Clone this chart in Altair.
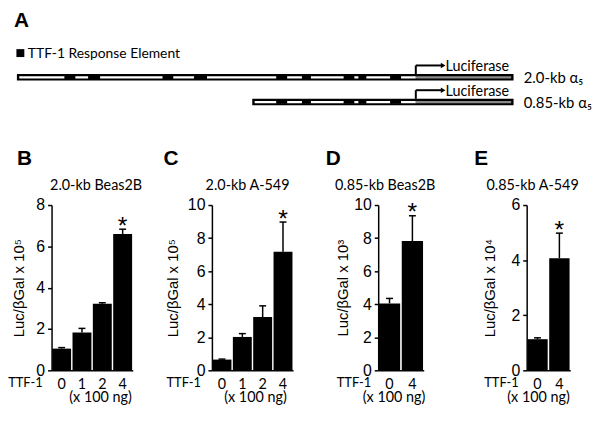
import altair as alt
import pandas as pd

# ---------------- Panel A: promoter constructs (positions in kb, 0 = start site) ----------------
construct_labels = ["2.0-kb α₅", "0.85-kb α₅"]
construct_starts = [-2.0, -0.82]
construct_rows = [0, 1]
luciferase_end = 0.49
tre_starts = [-1.762, -1.643, -1.270, -1.112, -0.700, -0.571, -0.362, -0.288, -0.129]
tre_ends = [-1.707, -1.583, -1.216, -1.047, -0.645, -0.526, -0.308, -0.248, -0.074]

# ---------------- Panels B–E ----------------
panel_letters = ["B", "C", "D", "E"]
panel_titles = ["2.0-kb Beas2B", "2.0-kb A-549", "0.85-kb Beas2B", "0.85-kb A-549"]
panel_ytitles = ["Luc/βGal x 10⁵", "Luc/βGal x 10⁵", "Luc/βGal x 10³", "Luc/βGal x 10⁴"]
panel_ymax = [8, 10, 10, 6]

doses_b = ["0", "1", "2", "4"]
means_b = [1.05, 1.83, 3.22, 6.6]
errs_b = [0.05, 0.2, 0.05, 0.23]
sig_b = [False, False, False, True]

doses_c = ["0", "1", "2", "4"]
means_c = [0.65, 2.02, 3.22, 7.18]
errs_c = [0.03, 0.2, 0.68, 1.79]
sig_c = [False, False, False, True]

doses_d = ["0", "4"]
means_d = [4.05, 7.82]
errs_d = [0.3, 1.53]
sig_d = [False, True]

doses_e = ["0", "4"]
means_e = [1.13, 4.07]
errs_e = [0.05, 0.91]
sig_e = [False, True]

SANS = "Liberation Sans"
HUM = "Lato"

# ---------------- schematic ----------------
xs = alt.Scale(domain=[-1.8263, 0.7742], nice=False, zero=False)
ys = alt.Scale(domain=[-2.72, 1.44], nice=False, zero=False, reverse=True)

cons = pd.DataFrame({"label": construct_labels, "start": construct_starts, "row": construct_rows})
cons["end"] = luciferase_end
cons["y1"] = cons["row"] - 0.13
cons["y2"] = cons["row"] + 0.13
cons["w1"] = cons["row"] - 0.045
cons["w2"] = cons["row"] + 0.045
cons["in_start"] = cons["start"] + 0.012
cons["zero"] = 0.0
cons["luc_in_end"] = luciferase_end - 0.012
cons["arrow_y"] = cons["row"] - 0.48
cons["arrow_end"] = 0.13
cons["head_x"] = 0.137
cons["luc_x"] = 0.149
cons["luc_y"] = cons["row"] - 0.24
cons["lab_x"] = 0.541
cons["lab_y"] = cons["row"] + 0.22
cons["luc_text"] = "Luciferase"

tre_rows = []
for r, s in zip(construct_rows, construct_starts):
    for a, b in zip(tre_starts, tre_ends):
        if a >= s:
            tre_rows.append({"row": r, "a": a, "b": b, "y1": r - 0.07, "y2": r + 0.07})
tre = pd.DataFrame(tre_rows)

bc = alt.Chart(cons)
outer = bc.mark_rect(color="black").encode(
    x=alt.X("start:Q", scale=xs, axis=None), x2="end:Q",
    y=alt.Y("y1:Q", scale=ys, axis=None), y2="y2:Q")
inner_white = bc.mark_rect(color="white").encode(
    x="in_start:Q", x2="zero:Q", y="w1:Q", y2="w2:Q")
inner_gray = bc.mark_rect(color="#8a8a8a").encode(
    x="zero:Q", x2="luc_in_end:Q", y="w1:Q", y2="w2:Q")
elements = alt.Chart(tre).mark_rect(color="black").encode(
    x="a:Q", x2="b:Q", y="y1:Q", y2="y2:Q")
arrow_v = bc.mark_rule(color="black", strokeWidth=2).encode(
    x="zero:Q", y="y1:Q", y2="arrow_y:Q")
arrow_h = bc.mark_rule(color="black", strokeWidth=2).encode(
    x="zero:Q", x2="arrow_end:Q", y="arrow_y:Q")
arrow_head = bc.mark_point(shape="triangle-right", filled=True, color="black", size=30, opacity=1).encode(
    x="head_x:Q", y="arrow_y:Q")
luc_text = bc.mark_text(align="left", baseline="alphabetic", font=HUM, fontSize=14.5, color="black").encode(
    x="luc_x:Q", y="luc_y:Q", text="luc_text:N")
con_text = bc.mark_text(align="left", baseline="alphabetic", font=HUM, fontSize=15, color="black").encode(
    x="lab_x:Q", y="lab_y:Q", text="label:N")

one = pd.DataFrame({"t": ["A"], "leg": ["TTF-1 Response Element"]})
letter_a = alt.Chart(one).mark_text(align="left", baseline="alphabetic", font=SANS, fontSize=21,
                                    fontWeight="bold", color="black").encode(
    text="t:N", x=alt.value(-38), y=alt.value(17))
leg_sq = alt.Chart(one).mark_square(color="black", size=64, opacity=1).encode(
    x=alt.value(-31.5), y=alt.value(43.5))
leg_text = alt.Chart(one).mark_text(align="left", baseline="alphabetic", font=HUM, fontSize=14,
                                    color="black").encode(
    text="leg:N", x=alt.value(-24), y=alt.value(48))

schematic = alt.layer(outer, inner_white, inner_gray, elements, arrow_v, arrow_h, arrow_head,
                      luc_text, con_text, letter_a, leg_sq, leg_text).properties(width=524, height=104)

# ---------------- bar panels ----------------
H = 167


def panel(letter, title, ytitle, ymax, doses, means, errs, sig, w, title_dx, letter_x,
          ttf_x, ng_dx, ytitle_x):
    df = pd.DataFrame({"dose": doses, "mean": means, "err": errs, "sig": sig})
    df["top"] = df["mean"] + df["err"]
    df["star"] = ["*" if s else "" for s in sig]
    base = alt.Chart(df)
    xscale = alt.Scale(paddingInner=0.07, paddingOuter=0.03)
    xaxis = alt.Axis(title=None, labelAngle=0, ticks=False, domainColor="black",
                     domainWidth=1.5, labelFont=HUM, labelFontSize=14.5,
                     labelColor="black", labelPadding=7, grid=False)
    yscale = alt.Scale(domain=[0, ymax], nice=False, zero=True)
    yaxis = alt.Axis(values=list(range(0, ymax + 1, 2)), grid=False,
                     labelOverlap=False, labelFlush=False,
                     domainColor="black", domainWidth=1.5,
                     tickColor="black", tickWidth=1.5, tickSize=4,
                     labelFont=SANS, labelFontSize=16, labelColor="black",
                     labelPadding=3,
                     title=ytitle, titleFont=SANS, titleFontSize=15,
                     titleFontWeight="normal", titleColor="black",
                     titleAngle=-90, titleX=ytitle_x, titleY=H / 2,
                     titleAlign="center", titleBaseline="middle")

    def X():
        return alt.X("dose:N", sort=doses, scale=xscale, axis=xaxis)

    def Y(f):
        return alt.Y(f + ":Q", scale=yscale, axis=yaxis)

    bars = base.mark_bar(color="black").encode(x=X(), y=Y("mean"))
    err = base.mark_rule(color="black", strokeWidth=1.5).encode(
        x=X(), y=Y("mean"), y2="top:Q")
    cap = base.mark_tick(color="black", thickness=1.5, size=7, opacity=1).encode(
        x=X(), y=Y("top"))
    star = base.mark_text(font=SANS, fontSize=25, baseline="alphabetic", dy=4.5,
                          color="black").encode(
        x=X(), y=Y("top"), text="star:N")
    ann = pd.DataFrame({"letter": [letter], "title": [title], "ttf": ["TTF-1"],
                        "ng": ["(x 100 ng)"]})
    ac = alt.Chart(ann)
    let = ac.mark_text(font=SANS, fontSize=21, fontWeight="bold", align="left",
                       baseline="alphabetic", color="black").encode(
        text="letter:N", x=alt.value(letter_x), y=alt.value(-40))
    tit = ac.mark_text(font=HUM, fontSize=14.5, align="center", baseline="alphabetic",
                       color="black").encode(
        text="title:N", x=alt.value(w / 2 + title_dx), y=alt.value(-15))
    ttf = ac.mark_text(font=HUM, fontSize=13, align="right", baseline="alphabetic",
                       color="black").encode(
        text="ttf:N", x=alt.value(ttf_x), y=alt.value(H + 17))
    ng = ac.mark_text(font=HUM, fontSize=14.5, align="center", baseline="alphabetic",
                      color="black").encode(
        text="ng:N", x=alt.value(w / 2 + ng_dx), y=alt.value(H + 32))
    return alt.layer(bars, err, cap, star, let, tit, ttf, ng).properties(width=w, height=H)


def spacer(w):
    return alt.Chart(pd.DataFrame({"a": [0]})).mark_point(opacity=0).encode(
        x=alt.value(0), y=alt.value(0)).properties(width=w, height=H)


pB = panel(panel_letters[0], panel_titles[0], panel_ytitles[0], panel_ymax[0],
           doses_b, means_b, errs_b, sig_b, 82, 4, -35, -9, 8.5, -33.5)
pC = panel(panel_letters[1], panel_titles[1], panel_ytitles[1], panel_ymax[1],
           doses_c, means_c, errs_c, sig_c, 82, -5, -49, -11, 3, -40)
pD = panel(panel_letters[2], panel_titles[2], panel_ytitles[2], panel_ymax[2],
           doses_d, means_d, errs_d, sig_d, 46, -16, -53, -7, -7, -36)
pE = panel(panel_letters[3], panel_titles[3], panel_ytitles[3], panel_ymax[3],
           doses_e, means_e, errs_e, sig_e, 44, -16, -53, -8, -10, -38)

bottom = alt.hconcat(pB, spacer(80), pC, spacer(86), pD, spacer(104), pE,
                     spacing=0, bounds="flush")

chart = alt.vconcat(schematic, bottom, spacing=93, bounds="flush").properties(
    padding=0, background="white"
).configure_view(stroke=None).configure_axis(labelOverlap=False)

chart.save("out.html", embed_options={"renderer": "svg", "actions": False})
